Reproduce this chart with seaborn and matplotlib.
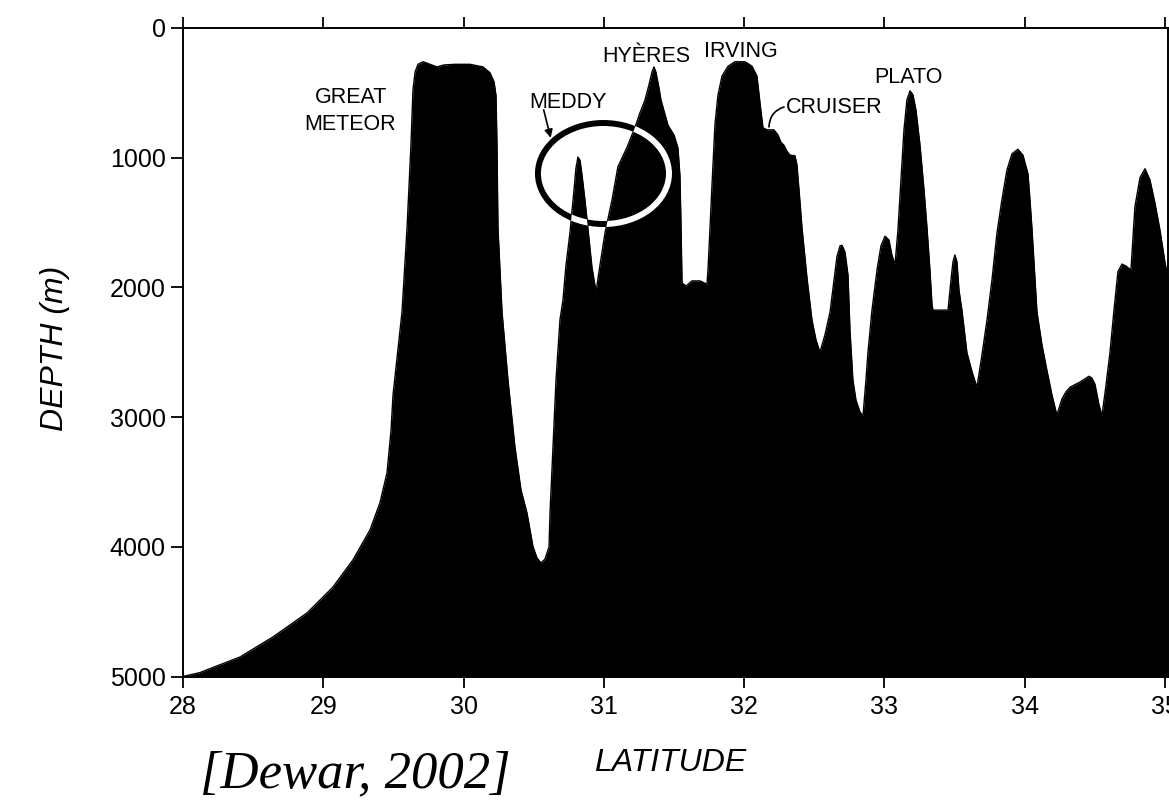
import matplotlib
matplotlib.use("Agg")
import matplotlib.pyplot as plt
from matplotlib.patches import Ellipse
import seaborn as sns
import pandas as pd

# ---- data: bathymetric profile (latitude, depth in m) ----
latitude = [28.000, 28.120, 28.250, 28.406, 28.641, 28.884, 29.069, 29.212, 29.333, 29.404, 29.454, 29.483,
            29.497, 29.561, 29.597, 29.625, 29.639, 29.654, 29.675, 29.711, 29.761, 29.810,
            29.860, 29.939, 30.046, 30.138, 30.188, 30.217, 30.231, 30.238, 30.245, 30.274,
            30.316, 30.366, 30.409, 30.452, 30.495, 30.523, 30.552, 30.580, 30.609, 30.616,
            30.637, 30.659, 30.687, 30.708, 30.730, 30.758, 30.787, 30.801, 30.815, 30.830,
            30.844, 30.865, 30.915, 30.944, 30.972, 31.008, 31.058, 31.100, 31.165, 31.222,
            31.257, 31.293, 31.321, 31.343, 31.357, 31.371, 31.393, 31.407, 31.457, 31.500,
            31.528, 31.542, 31.549, 31.557, 31.585, 31.628, 31.685, 31.735, 31.742, 31.756,
            31.770, 31.792, 31.813, 31.842, 31.885, 31.934, 32.006, 32.056, 32.091, 32.113,
            32.134, 32.163, 32.212, 32.241, 32.262, 32.284, 32.305, 32.326, 32.362, 32.376,
            32.391, 32.412, 32.448, 32.483, 32.512, 32.540, 32.576, 32.612, 32.640, 32.661,
            32.683, 32.697, 32.718, 32.740, 32.754, 32.775, 32.797, 32.825, 32.847, 32.868,
            32.882, 32.911, 32.947, 32.975, 33.004, 33.032, 33.053, 33.075, 33.096, 33.118,
            33.139, 33.160, 33.182, 33.203, 33.224, 33.253, 33.282, 33.303, 33.324, 33.339,
            33.346, 33.453, 33.474, 33.488, 33.502, 33.517, 33.531, 33.552, 33.588, 33.624,
            33.659, 33.695, 33.731, 33.766, 33.802, 33.837, 33.873, 33.909, 33.951, 33.987,
            34.023, 34.037, 34.051, 34.087, 34.123, 34.158, 34.194, 34.229, 34.265, 34.294,
            34.322, 34.393, 34.458, 34.479, 34.500, 34.529, 34.550, 34.579, 34.607, 34.636,
            34.664, 34.693, 34.721, 34.757, 34.785, 34.821, 34.857, 34.892, 34.928, 34.964,
            34.999, 35.021]
depth_m = [5000, 4970, 4915, 4850, 4695, 4510, 4310, 4100, 3870, 3660, 3430, 3100,
           2830, 2190, 1540, 900, 480, 340, 280, 260, 280, 300,
           285, 280, 280, 300, 345, 415, 520, 900, 1540, 2190,
           2710, 3230, 3560, 3740, 4000, 4085, 4125, 4095, 4000, 3740,
           3230, 2710, 2250, 2100, 1830, 1580, 1250, 1080, 995, 1020,
           1135, 1325, 1845, 2035, 1830, 1580, 1325, 1070, 920, 765,
           655, 555, 440, 340, 300, 340, 465, 555, 750, 825,
           925, 1135, 1480, 1965, 1990, 1950, 1950, 1975, 1865, 1555,
           1225, 740, 520, 370, 295, 260, 260, 295, 370, 580,
           770, 785, 785, 825, 880, 905, 950, 980, 985, 1055,
           1250, 1540, 1930, 2250, 2405, 2500, 2365, 2190, 1945, 1765,
           1680, 1675, 1725, 1905, 2330, 2715, 2870, 2960, 2990, 2715,
           2505, 2175, 1865, 1680, 1605, 1635, 1750, 1825, 1560, 1170,
           785, 555, 485, 515, 630, 900, 1250, 1540, 1865, 2135,
           2175, 2175, 1945, 1805, 1750, 1805, 2020, 2175, 2505, 2650,
           2770, 2520, 2250, 1945, 1580, 1325, 1095, 970, 935, 980,
           1125, 1325, 1540, 2190, 2445, 2640, 2830, 2985, 2860, 2805,
           2770, 2730, 2685, 2700, 2745, 2905, 2990, 2755, 2505, 2175,
           1880, 1820, 1835, 1865, 1380, 1155, 1085, 1170, 1350, 1560,
           1805, 1930]

x_ticks = [28, 29, 30, 31, 32, 33, 34, 35]
y_ticks = [0, 1000, 2000, 3000, 4000, 5000]
y_tick_labels = ["0", "1000", "2000", "3000", "4000", "5000"]

feature_names = ["GREAT", "METEOR", "MEDDY", "HYÈRES", "IRVING", "CRUISER", "PLATO"]
feature_lat = [29.197, 29.190, 30.744, 31.300, 31.977, 32.640, 33.168]
feature_depth = [578, 786, 617, 262, 224, 655, 424]

meddy_center = (30.997, 1122)
meddy_size = (0.934, 779)

# ---- style ----
sns.set_style("ticks")
plt.rcParams["font.family"] = ["Liberation Sans", "DejaVu Sans"]
for key in ["text.color", "axes.labelcolor", "xtick.color", "ytick.color", "axes.edgecolor"]:
    plt.rcParams[key] = "black"
label_family = ["Liberation Sans Narrow", "Liberation Sans", "DejaVu Sans"]

W, H = 1169, 800
fig = plt.figure(figsize=(W / 100, H / 100), dpi=100)
ax = fig.add_axes([183 / W, 1 - 676.5 / H, 985 / W, 648.5 / H])

df = pd.DataFrame({"lat": latitude, "depth": depth_m})
poly = ax.fill_between(df["lat"], df["depth"], 5000, color="black", linewidth=0, zorder=2)
sns.lineplot(data=df, x="lat", y="depth", sort=False, estimator=None,
             color="black", linewidth=1.0, ax=ax, zorder=3)

ax.set_xlim(28, 35.021)
ax.set_ylim(5000, 0)
ax.set_xticks(x_ticks)
ax.set_xticklabels([str(t) for t in x_ticks])
ax.set_yticks(y_ticks)
ax.set_yticklabels(y_tick_labels)

for s in ax.spines.values():
    s.set_linewidth(1.4)
    s.set_color("black")
    s.set_visible(True)
ax.tick_params(axis="x", direction="out", length=8, width=1.3, labelsize=18, pad=5,
               top=True, labeltop=False, colors="black")
ax.tick_params(axis="y", direction="out", length=8.5, width=1.3, labelsize=18, pad=4,
               colors="black")

ax.set_xlabel("LATITUDE", fontsize=23, style="italic", color="black")
ax.xaxis.set_label_coords(0.4944, -0.110)
ax.set_ylabel("DEPTH (m)", fontsize=23, style="italic", color="black")
ax.yaxis.set_label_coords(-0.1147, 0.506)

# ---- Meddy ring (inverted where it crosses the topography) ----
ring = Ellipse(meddy_center, meddy_size[0], meddy_size[1], fill=False,
               edgecolor="black", linewidth=4.3, zorder=4)
ax.add_patch(ring)
ring_w = Ellipse(meddy_center, meddy_size[0], meddy_size[1], fill=False,
                 edgecolor="white", linewidth=4.3, zorder=5)
ax.add_patch(ring_w)
ring_w.set_clip_path(poly.get_paths()[0], ax.transData)

# ---- feature labels ----
for name, la, de in zip(feature_names, feature_lat, feature_depth):
    ax.text(la, de, name, ha="center", va="baseline", fontsize=15.5,
            family=label_family, color="black", zorder=6)

ax.annotate("", xy=(30.621, 847), xytext=(30.571, 632),
            arrowprops=dict(arrowstyle="-|>", color="black", lw=1.2,
                            mutation_scale=12, shrinkA=0, shrinkB=0), zorder=6)
ax.annotate("", xy=(32.284, 609), xytext=(32.177, 763),
            arrowprops=dict(arrowstyle="-", color="black", lw=1.2,
                            connectionstyle="arc3,rad=-0.35", shrinkA=0, shrinkB=0), zorder=6)

fig.text(200 / W, 1 - 787 / H, "[Dewar, 2002]", ha="left", va="baseline",
         fontsize=38, style="italic", color="black", family=["Liberation Serif", "DejaVu Serif"])

fig.savefig("out.png", dpi=100, facecolor="white")
